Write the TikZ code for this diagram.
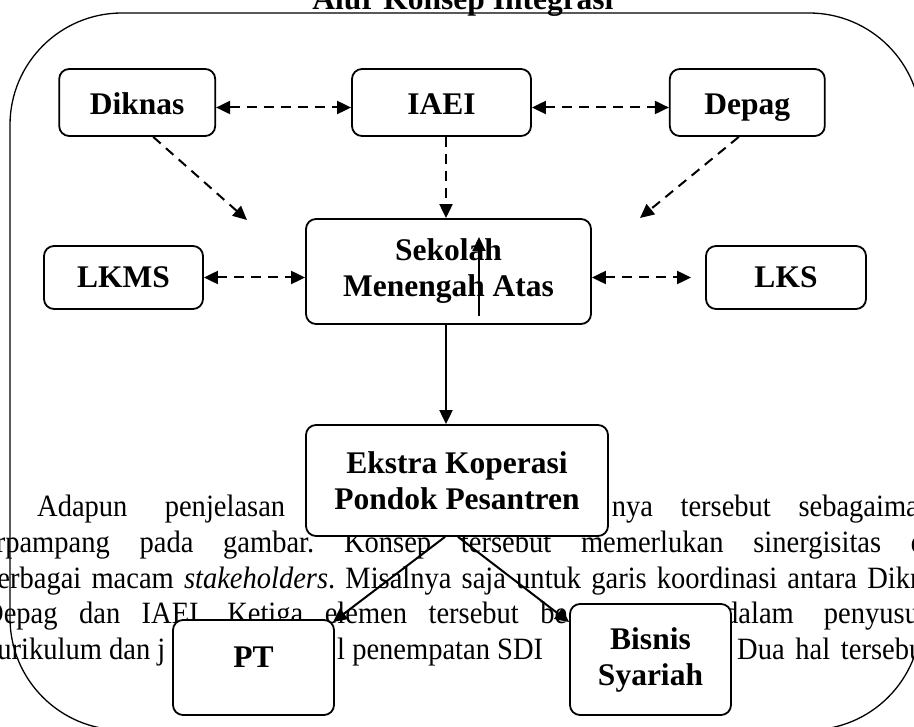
\documentclass[tikz,border=0pt]{standalone}
\usepackage{fontspec}
\setmainfont{Liberation Serif}
\newfontfamily\bodyfont[FakeStretch=0.92]{Liberation Serif}
\usetikzlibrary{arrows.meta,positioning,calc}
\newcommand{\boxfont}{\bfseries\fontsize{31.5}{36}\selectfont}
\newcommand{\parafont}{\bodyfont\fontsize{31}{37}\selectfont\frenchspacing}

\begin{document}
\begin{tikzpicture}[x=1pt,y=-1pt,
  unitbox/.style={draw,line width=1.8pt,rounded corners=10pt,fill=white,align=center,
    font=\boxfont,inner sep=0pt},
  topbox/.style={unitbox,minimum height=67pt,text height=25pt,text depth=0pt},
  sidebox/.style={unitbox,minimum height=63pt,text height=21pt,text depth=0pt},
  dlink/.style={line width=2pt,dash pattern=on 10pt off 7pt,-{Triangle[length=14pt,width=13pt]}},
  dboth/.style={dlink,{Triangle[length=14pt,width=13pt]}-{Triangle[length=14pt,width=13pt]}},
  flow/.style={line width=2pt,-{Triangle[length=14pt,width=13pt]}},
  para/.style={anchor=base west,inner sep=0pt,font=\parafont}
]
\useasboundingbox (0,0) rectangle (914,727);
\clip (0,0) rectangle (914,727);
\node[para] (p1a) at (37,516) {\makebox[248pt][s]{Adapun penjelasan}};
\node[para,anchor=base east] (p1b) at (946,516) {\makebox[334pt][s]{nya tersebut sebagaimana}};
\node[para] (p2) at (-25,552) {\makebox[980pt][s]{terpampang pada gambar. Konsep tersebut memerlukan sinergisitas dari}};
\node[para] (p3) at (-17,588) {\makebox[972pt][s]{berbagai macam \textit{stakeholders}. Misalnya saja untuk garis koordinasi antara Diknas,}};
\node[para] (p4a) at (-17,623) {\makebox[584pt][s]{Depag dan IAEI. Ketiga elemen tersebut be}};
\node[para] (p4b) at (724,623) {\makebox[236pt][s]{dalam penyusunan}};
\node[para] (p5a) at (-17,659) {kurikulum dan j};
\node[para] (p5b) at (337,659) {l penempatan SDI};
\node[para] (p5c) at (737,659) {\makebox[194pt][s]{Dua hal tersebut}};

\draw[line width=1.3pt,rounded corners=112pt] (10,13) rectangle (921,730);
\node[anchor=base,font=\boxfont,inner sep=0pt] (title) at (463,10) {Alur Konsep Integrasi};

\node[topbox,minimum width=179pt] (iaei) at (441.5,102.5) {IAEI};
\node[topbox,minimum width=156pt,left=135pt of iaei] (diknas) {Diknas};
\node[topbox,minimum width=155pt,right=137pt of iaei] (depag) {Depag};
\node[unitbox,minimum width=285pt,minimum height=105pt] (sma) at (448.5,271.5) {Sekolah\\Menengah Atas};
\node[sidebox,minimum width=159pt] (lkms) at (123.5,277.5) {LKMS};
\node[sidebox,minimum width=160pt] (lks) at (786,277.5) {LKS};
\node[unitbox,minimum width=302pt,minimum height=111pt] (ekstra) at (457,480.5) {Ekstra Koperasi\\Pondok Pesantren};
\node[unitbox,minimum width=161pt,minimum height=95pt,text depth=20pt] (pt) at (253.5,667.5) {PT};
\node[unitbox,minimum width=161pt,minimum height=111pt] (bisnis) at (650.5,659.5) {Bisnis\\Syariah};

\coordinate (dkend) at (247,220);
\coordinate (dpend) at (640,218);
\coordinate (upfoot) at (479,316);
\coordinate (uphead) at (479,237);
\draw[dboth] ([yshift=-5pt]diknas.east) -- ([yshift=-5pt]iaei.west);
\draw[dboth] ([yshift=-5pt]iaei.east) -- ([yshift=-5pt]depag.west);
\draw[dlink] ([xshift=16pt]diknas.south) -- (dkend);
\draw[dlink] ([xshift=4.5pt]iaei.south) -- ([xshift=-2.5pt]sma.north);
\draw[dlink] ([xshift=-8.5pt]depag.south) -- (dpend);
\draw[dboth] (lkms.east) -- (lkms.east -| sma.west);
\draw[dboth] (lks.west -| sma.east) -- ([xshift=-14pt]lks.west);
\draw[flow] (upfoot) -- (uphead);
\draw[flow] ([xshift=-2.5pt]sma.south) -- ([xshift=-11pt]ekstra.north);
\draw[flow] ([xshift=-12pt]ekstra.south) -- ([xshift=-2pt,yshift=-3pt]pt.north east);
\draw[flow] ([xshift=1pt]ekstra.south) -- ([yshift=-19pt]bisnis.north west);
\end{tikzpicture}
\end{document}
